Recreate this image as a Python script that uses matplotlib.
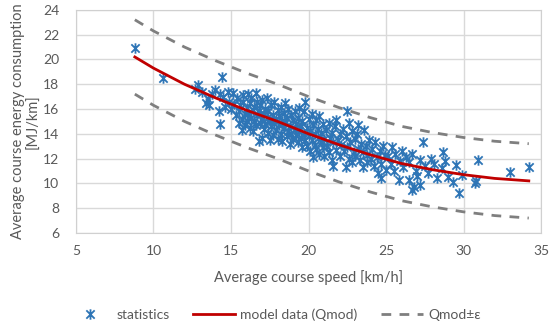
import matplotlib.pyplot as plt
from matplotlib.path import Path
import numpy as np

plt.rcParams['font.family'] = ['Lato', 'DejaVu Sans']

# statistics
stat_x = [8.8, 10.6, 12.7, 12.9, 13.1, 13.4, 13.5, 13.6, 13.8, 14.0, 14.3, 14.5, 14.4, 14.2, 14.3, 14.6, 14.8, 14.9,
          15.0, 15.1, 15.2, 15.3, 15.4, 15.5, 15.5, 15.6, 15.7, 15.7, 15.8, 15.8, 15.9, 15.9, 16.0, 16.0,
          16.1, 16.1, 16.2, 16.2, 16.3, 16.3, 16.4, 16.4, 16.5, 16.5, 16.6, 16.6, 16.7, 16.7, 16.8, 16.8, 16.9, 16.9, 17.0, 17.0, 17.0,
          17.1, 17.1, 17.2, 17.2, 17.3, 17.3, 17.4, 17.4, 17.5, 17.5, 17.6, 17.6, 17.7, 17.7, 17.8, 17.8, 17.9, 17.9, 18.0, 18.0,
          18.1, 18.1, 18.2, 18.2, 18.3, 18.3, 18.4, 18.4, 18.5, 18.5, 18.6, 18.6, 18.7, 18.7, 18.8, 18.8, 18.9, 18.9, 19.0, 19.0,
          19.1, 19.1, 19.2, 19.2, 19.3, 19.3, 19.4, 19.4, 19.5, 19.5, 19.6, 19.6, 19.7, 19.7, 19.8, 19.8, 19.9, 19.9, 20.0, 20.0,
          20.1, 20.1, 20.2, 20.2, 20.3, 20.3, 20.4, 20.4, 20.5, 20.5, 20.6, 20.6, 20.7, 20.7, 20.8, 20.8, 20.9, 20.9, 21.0, 21.0,
          21.1, 21.2, 21.3, 21.3, 21.4, 21.5, 21.5, 21.6, 21.6, 21.7, 21.8, 21.8, 21.9, 22.0, 22.0,
          22.1, 22.2, 22.3, 22.4, 22.4, 22.5, 22.5, 22.6, 22.6, 22.7, 22.8, 22.8, 22.9, 23.0, 23.0,
          23.1, 23.2, 23.2, 23.3, 23.4, 23.5, 23.5, 23.6, 23.7, 23.8, 23.8, 23.9, 24.0,
          24.1, 24.2, 24.3, 24.4, 24.5, 24.6, 24.7, 24.7, 24.8, 24.9, 25.0,
          25.1, 25.3, 25.4, 25.5, 25.6, 25.8, 25.9, 26.0,
          26.1, 26.3, 26.5, 26.5, 26.7, 26.7, 26.8, 26.9, 27.0,
          27.2, 27.2, 27.4, 27.5, 27.7, 27.9, 28.1,
          28.3, 28.6, 28.7, 28.8, 29.0, 29.3, 29.5, 29.7, 29.9,
          30.7, 30.8, 30.9, 33.0, 34.2]
stat_y = [20.9, 18.5, 17.6, 17.9, 17.4, 16.5, 16.8, 16.3, 17.2, 17.5, 17.2, 17.0, 18.6, 15.8, 14.8, 16.2, 17.4, 16.6,
          16.0, 17.3, 16.4, 15.5, 16.9, 15.8, 14.9, 16.3, 14.3, 15.2, 16.6, 17.1, 15.6, 14.7, 16.1, 15.0,
          17.2, 15.7, 16.5, 14.5, 15.3, 16.9, 14.2, 15.9, 16.2, 15.0, 17.3, 14.7, 15.5, 16.6, 13.4, 15.8, 14.9, 16.3, 13.7, 15.2, 16.7,
          14.4, 15.6, 16.0, 14.8, 15.3, 16.9, 14.1, 15.8, 13.5, 15.0, 16.3, 14.6, 15.5, 13.9, 16.6, 14.9, 15.2, 14.3, 15.9, 13.6,
          14.7, 15.4, 16.2, 14.0, 15.0, 13.4, 15.7, 14.5, 16.5, 14.9, 13.8, 15.3, 14.2, 16.0, 14.6, 13.2, 15.5, 14.0, 15.1, 13.6,
          14.4, 15.8, 13.9, 14.8, 15.3, 13.3, 14.2, 16.1, 14.6, 13.7, 15.0, 12.9, 15.8, 14.0, 16.6, 13.5, 14.5, 13.0, 15.2, 13.8,
          14.2, 12.6, 13.5, 15.6, 12.1, 14.7, 13.1, 14.0, 15.1, 12.8, 13.7, 14.4, 12.4, 15.4, 13.3, 14.1, 12.9, 14.8, 13.6, 12.2,
          14.3, 13.0, 14.9, 12.5, 13.7, 14.1, 11.9, 11.4, 13.3, 14.6, 15.1, 12.7, 13.5, 12.2, 14.0,
          13.1, 14.4, 12.6, 11.3, 13.8, 15.8, 12.9, 14.9, 12.0, 13.3, 14.2, 11.7, 12.5, 13.6, 12.2,
          14.0, 14.7, 12.8, 11.9, 13.2, 11.3, 12.5, 14.3, 13.0, 11.7, 12.3, 13.5, 12.0,
          12.8, 11.4, 13.3, 12.1, 10.8, 12.6, 11.6, 10.4, 13.0, 12.3, 11.1,
          12.2, 11.6, 12.9, 11.0, 12.4, 10.3, 11.8, 12.6,
          11.3, 12.1, 10.3, 11.7, 12.4, 9.5, 9.7, 11.0, 10.6,
          9.9, 11.9, 13.3, 11.4, 10.8, 12.0, 11.6,
          10.4, 11.2, 12.5, 11.8, 10.5, 10.1, 11.5, 9.2, 10.7,
          10.0, 10.2, 11.9, 10.9, 11.3]

# model data (Qmod) and band half-width
model_x = [8.8, 10, 12, 14, 16, 18, 20, 22, 24, 26, 28, 30, 32, 34.2]
model_y = [20.2, 19.3, 18.0, 16.9, 15.9, 15.0, 14.0, 13.1, 12.3, 11.6, 11.1, 10.7, 10.4, 10.2]
eps = 3.0

star = Path([(-1, -1), (1, 1), (-1, 1), (1, -1), (0, -1.25), (0, 1.25)],
            [Path.MOVETO, Path.LINETO, Path.MOVETO, Path.LINETO, Path.MOVETO, Path.LINETO])

fig, ax = plt.subplots(figsize=(5.5, 3.29), dpi=100)
fig.subplots_adjust(left=0.138, right=0.984, top=0.97, bottom=0.292)

ax.plot(stat_x, stat_y, ls='none', marker=star, ms=7.5, mfc='none', mec='#2E75B6', mew=1.3,
        label='statistics', zorder=3)
ax.plot(model_x, model_y, color='#C00000', lw=2, label='model data (Qmod)', zorder=4)
my = np.array(model_y)
ax.plot(model_x, my + eps, color='#7F7F7F', lw=2, ls=(0, (3.5, 3)), label='Qmod±ε', zorder=2)
ax.plot(model_x, my - eps, color='#7F7F7F', lw=2, ls=(0, (3.5, 3)), zorder=2)

ax.set_xlim(5, 35)
ax.set_ylim(6, 24)
ax.set_xticks(range(5, 36, 5))
ax.set_yticks(range(6, 25, 2))
ax.grid(True, color='#D9D9D9', lw=1)
ax.set_axisbelow(True)
for s in ax.spines.values():
    s.set_color('#D0D0D0')
ax.tick_params(length=0, labelsize=10, labelcolor='#595959')
ax.tick_params(axis='y', pad=12)
ax.tick_params(axis='x', pad=9)

ax.set_xlabel('Average course speed [km/h]', fontsize=10.5, color='#595959', labelpad=9)
ax.set_ylabel('Average course energy consumption\n[MJ/km]', fontsize=10.5, color='#595959',
              labelpad=2, linespacing=1.1)

ax.legend(loc='lower center', bbox_to_anchor=(0.5, 0.0), bbox_transform=fig.transFigure,
          ncol=3, frameon=False, fontsize=10, labelcolor='#595959', handlelength=3.0,
          columnspacing=1.7, handletextpad=0.4, borderaxespad=0.2)

fig.savefig('out.png', dpi=100)
